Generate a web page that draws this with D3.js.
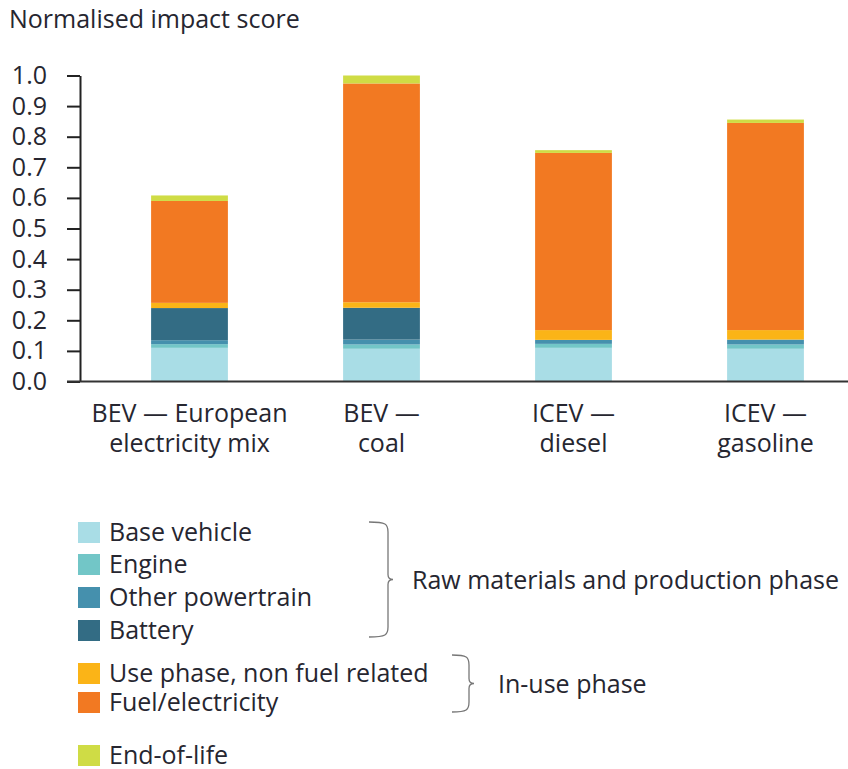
<!DOCTYPE html>
<html>
<head>
<meta charset="utf-8">
<script src="https://cdn.jsdelivr.net/npm/d3@7"></script>
<style>
  body { margin: 0; background: #fff; }
  svg text { font-family: "Open Sans", sans-serif; fill: #262630; }
</style>
</head>
<body>
<div id="chart-container"></div>
<script>
'use strict';

// data
var categories = ['BEV — European electricity mix', 'BEV — coal', 'ICEV — diesel', 'ICEV — gasoline'];
var categoryLines = [['BEV — European', 'electricity mix'], ['BEV —', 'coal'], ['ICEV —', 'diesel'], ['ICEV —', 'gasoline']];
var seriesNames = ['Base vehicle', 'Engine', 'Other powertrain', 'Battery',
  'Use phase, non fuel related', 'Fuel/electricity', 'End-of-life'];
var baseVehicle = [0.110, 0.107, 0.110, 0.107];
var engine = [0.012, 0.014, 0.013, 0.014];
var otherPowertrain = [0.013, 0.016, 0.013, 0.016];
var battery = [0.105, 0.104, 0, 0];
var useNonFuel = [0.017, 0.018, 0.032, 0.031];
var fuelElectricity = [0.333, 0.715, 0.579, 0.677];
var endOfLife = [0.018, 0.026, 0.009, 0.011];
var yTicks = [0, 0.1, 0.2, 0.3, 0.4, 0.5, 0.6, 0.7, 0.8, 0.9, 1.0];
var colours = ['#a9dde6', '#72c6c7', '#4590ad', '#336c84', '#fbb417', '#f27922', '#cfdc45'];
var groups = [
  { label: 'Raw materials and production phase', from: 0, to: 3 },
  { label: 'In-use phase', from: 4, to: 5 }
];

var values = [baseVehicle, engine, otherPowertrain, battery, useNonFuel, fuelElectricity, endOfLife];
var table = categories.map(function(c, i) {
  var row = { category: c };
  seriesNames.forEach(function(s, k) { row[s] = values[k][i]; });
  return row;
});

var width = 848;
var height = 769;
var fontSize = '25px';

var svg = d3.select('#chart-container')
  .append('svg')
  .attr('width', width)
  .attr('height', height);

var x = d3.scaleBand()
  .domain(categories)
  .range([93.5, 861.5])
  .paddingInner(0.6)
  .paddingOuter(0.3);

var y = d3.scaleLinear()
  .domain([0, 1])
  .range([381.5, 75.5]);

// axis title
svg.append('text')
  .attr('x', 9)
  .attr('y', 28)
  .style('font-size', fontSize)
  .text('Normalised impact score');

// stacked bars
var stack = d3.stack().keys(seriesNames);
svg.append('g')
  .selectAll('g')
  .data(stack(table))
  .enter()
  .append('g')
  .attr('fill', (d, i) => colours[i])
  .selectAll('rect')
  .data(d => d)
  .enter()
  .append('rect')
  .attr('x', d => x(d.data.category))
  .attr('width', x.bandwidth())
  .attr('y', d => y(d[1]))
  .attr('height', d => y(d[0]) - y(d[1]));

// y axis
var yAxis = svg.append('g')
  .attr('transform', 'translate(80,0)')
  .call(d3.axisLeft(y).tickValues(yTicks).tickFormat(d3.format('.1f'))
    .tickSize(13).tickPadding(20).tickSizeOuter(0));
yAxis.select('.domain').attr('stroke', '#222').attr('stroke-width', 2);
yAxis.selectAll('.tick line').attr('stroke', '#222').attr('stroke-width', 2);
yAxis.selectAll('.tick text')
  .style('font-size', fontSize)
  .style('font-family', '"Open Sans", sans-serif')
  .attr('fill', '#262630');

// baseline
svg.append('line')
  .attr('x1', 67).attr('x2', width)
  .attr('y1', y(0)).attr('y2', y(0))
  .attr('stroke', '#333')
  .attr('stroke-width', 2);

// category labels
var labels = svg.append('g')
  .selectAll('text')
  .data(categories)
  .enter()
  .append('text')
  .attr('text-anchor', 'middle')
  .style('font-size', fontSize);
labels.selectAll('tspan')
  .data((d, i) => categoryLines[i].map(t => ({ t: t, c: d })))
  .enter()
  .append('tspan')
  .attr('x', d => x(d.c) + x.bandwidth() / 2)
  .attr('y', (d, j) => 422 + j * 30)
  .text(d => d.t);

// legend
var legendY = [532, 564, 597, 630, 673, 702, 755];
var legend = svg.append('g')
  .selectAll('g')
  .data(seriesNames)
  .enter()
  .append('g')
  .attr('transform', (d, i) => 'translate(78,' + legendY[i] + ')');
legend.append('rect')
  .attr('x', 0).attr('y', -10)
  .attr('width', 22).attr('height', 21)
  .attr('fill', (d, i) => colours[i]);
legend.append('text')
  .attr('x', 31)
  .attr('y', 9)
  .style('font-size', fontSize)
  .text(d => d);

// curly braces
function brace(x0, y0, y1, w, tip) {
  var m = (y0 + y1) / 2;
  var r = 10;
  var xs = x0 + w;
  return 'M' + x0 + ',' + y0 +
    'C' + (xs - 2) + ',' + y0 + ' ' + xs + ',' + (y0 + 2) + ' ' + xs + ',' + (y0 + r) +
    'L' + xs + ',' + (m - 5) +
    'Q' + xs + ',' + m + ' ' + (xs + tip) + ',' + m +
    'Q' + xs + ',' + m + ' ' + xs + ',' + (m + 5) +
    'L' + xs + ',' + (y1 - r) +
    'C' + xs + ',' + (y1 - 2) + ' ' + (xs - 2) + ',' + y1 + ' ' + x0 + ',' + y1;
}
var braceBox = [
  { x0: 369, y0: 522, y1: 637, w: 19, tip: 5, tx: 412 },
  { x0: 452, y0: 655, y1: 712, w: 17, tip: 5, tx: 498 }
];
groups.forEach(function(g, i) {
  var b = braceBox[i];
  svg.append('path')
    .attr('d', brace(b.x0, b.y0, b.y1, b.w, b.tip))
    .attr('fill', 'none')
    .attr('stroke', '#777')
    .attr('stroke-width', 1.3);
  svg.append('text')
    .attr('x', b.tx)
    .attr('y', (b.y0 + b.y1) / 2 + 9)
    .style('font-size', fontSize)
    .text(g.label);
});
</script>
</body>
</html>
